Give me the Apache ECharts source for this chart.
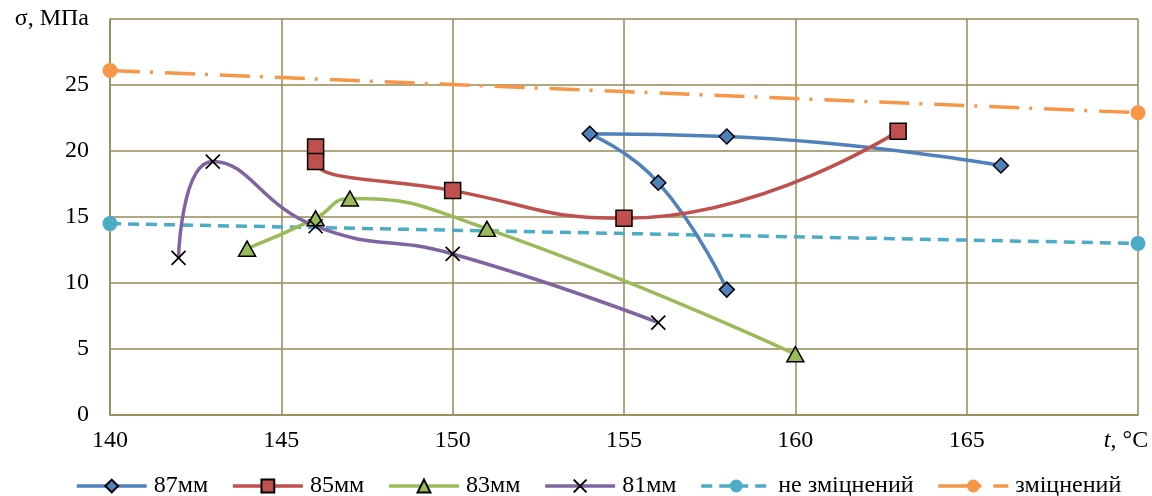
<!DOCTYPE html>
<html><head><meta charset="utf-8">
<script src="https://cdn.jsdelivr.net/npm/echarts@6/dist/echarts.min.js"></script>
<style>html,body{margin:0;padding:0;background:#fff}#c{width:1152px;height:496px}</style>
</head><body><div id="c"></div>
<script>
const xTicks = [140, 145, 150, 155, 160, 165, 170];
const yTicks = [0, 5, 10, 15, 20, 25, 30];
const s87x = [166, 158, 154, 156, 158];
const s87y = [18.9, 21.1, 21.3, 17.6, 9.5];
const s85x = [146, 146, 150, 155, 163];
const s85y = [20.3, 19.2, 17.0, 14.9, 21.5];
const s83x = [144, 146, 147, 151, 160];
const s83y = [12.6, 14.9, 16.4, 14.1, 4.6];
const s81x = [142, 143, 146, 150, 156];
const s81y = [11.9, 19.2, 14.3, 12.2, 7.0];
const sNx = [140, 170];
const sNy = [14.5, 13.0];
const sZx = [140, 170];
const sZy = [26.1, 22.9];
const names = ['87мм', '85мм', '83мм', '81мм', 'не зміцнений', 'зміцнений'];

const pair = (xs, ys) => xs.map((x, i) => [x, ys[i]]);
const font = 'Liberation Serif';
const grid = '#948A54';
const cross = 'path://M0,0L10,10M10,0L0,10';

function ser(name, data, color, symbol, size, extra) {
  return Object.assign({
    name, type: 'line', data, smooth: 0.5, symbol, symbolSize: size,
    lineStyle: { color, width: 3.5 },
    itemStyle: { color, borderColor: '#000', borderWidth: 1.5 },
    emphasis: { disabled: true }, z: 3
  }, extra || {});
}

const chart = echarts.init(document.getElementById('c'), null, { renderer: 'canvas' });
chart.setOption({
  animation: false,
  grid: { left: 110, right: 14, top: 19, bottom: 81, containLabel: false, outerBoundsMode: 'none' },
  xAxis: {
    type: 'value', min: xTicks[0], max: xTicks[xTicks.length - 1], interval: 5,
    axisLine: { show: true, lineStyle: { color: grid, width: 1.5 } },
    axisTick: { show: false },
    splitLine: { show: true, lineStyle: { color: grid, width: 1.5 } },
    axisLabel: {
      fontFamily: font, fontSize: 24, color: '#000', margin: 14,
      formatter: v => v === 170 ? '{i|t}{n|, °C}{p|}' : String(v),
      rich: {
        i: { fontFamily: font, fontSize: 24, fontStyle: 'italic', color: '#000' },
        n: { fontFamily: font, fontSize: 24, color: '#000' },
        p: { width: 24 }
      }
    }
  },
  yAxis: {
    type: 'value', min: yTicks[0], max: yTicks[yTicks.length - 1], interval: 5,
    axisLine: { show: true, lineStyle: { color: grid, width: 1.5 } },
    axisTick: { show: false },
    splitLine: { show: true, lineStyle: { color: grid, width: 1.5 } },
    axisLabel: {
      fontFamily: font, fontSize: 24, color: '#000', margin: 21,
      formatter: v => v === 30 ? 'σ, МПа' : String(v)
    }
  },
  legend: {
    top: 474, left: 75, padding: 0, itemWidth: 70, itemHeight: 16, itemGap: 23,
    lineStyle: { width: 3.5 },
    textStyle: { fontFamily: font, fontSize: 24, color: '#000', padding: [0, 0, 0, 2] },
    data: names
  },
  series: [
    ser(names[0], pair(s87x, s87y), '#4F81BD', 'diamond', [15, 15]),
    ser(names[1], pair(s85x, s85y), '#C0504D', 'rect', 16),
    ser(names[2], pair(s83x, s83y), '#9BBB59', 'triangle', [17, 15]),
    ser(names[3], pair(s81x, s81y), '#8064A2', cross, 14, { itemStyle: { color: '#000', borderColor: '#000', borderWidth: 1.7 } }),
    ser(names[4], pair(sNx, sNy), '#4BACC6', 'circle', 15, {
      smooth: false, z: 2,
      lineStyle: { color: '#4BACC6', width: 3.5, type: [11, 7] },
      itemStyle: { color: '#4BACC6', borderWidth: 0 }
    }),
    ser(names[5], pair(sZx, sZy), '#F79646', 'circle', 15, {
      smooth: false, z: 2,
      lineStyle: { color: '#F79646', width: 3.5, type: [30, 10, 3, 12] },
      itemStyle: { color: '#F79646', borderWidth: 0 }
    })
  ]
});
</script></body></html>
